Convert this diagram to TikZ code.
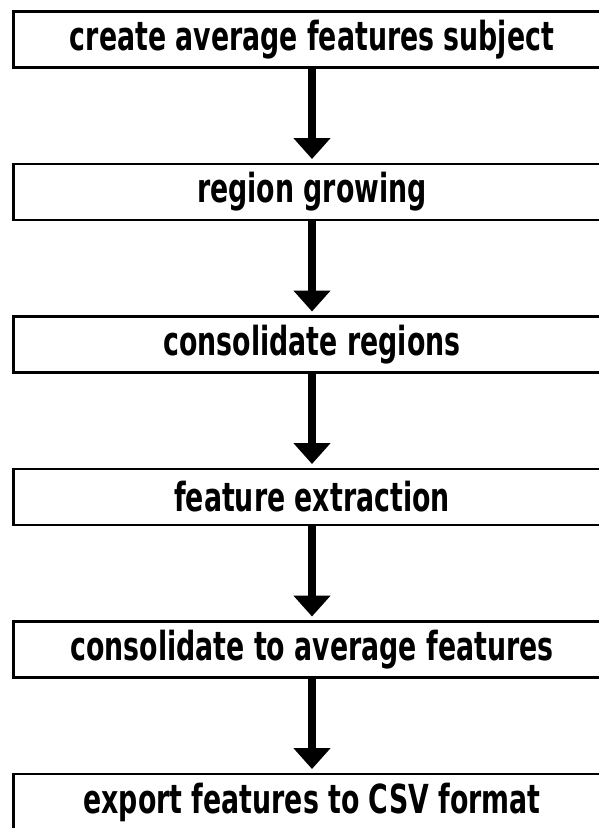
\documentclass[tikz,border=0pt]{standalone}
\usepackage{fontspec}
\usepackage{tikz}
\usetikzlibrary{positioning,arrows.meta}
\newfontfamily\stepfont{DejaVu Sans}[FakeStretch=0.67]

\begin{document}
\begin{tikzpicture}[x=1pt, y=1pt,
    stepbox/.style={draw, line width=2.8pt, minimum width=597pt, minimum height=56pt,
        inner sep=0pt, outer sep=0pt, font=\stepfont\bfseries\fontsize{40}{42}\selectfont},
    flow/.style={line width=8pt, -{Triangle[width=36pt, length=21pt]}, shorten >=5pt},
    node distance=96.5pt]
    % Frame
    \useasboundingbox (0,0) rectangle (599,-828);

    % Steps
    \node[stepbox] (avg) at (312,-39.5) {create average features subject};
    \node[stepbox, below=of avg] (grow) {region growing};
    \node[stepbox, below=of grow] (cons) {consolidate regions};
    \node[stepbox, below=of cons] (feat) {feature extraction};
    \node[stepbox, below=of feat] (toavg) {consolidate to average features};
    \node[stepbox, below=of toavg] (csv) {export features to CSV format};

    % Arrows
    \draw[flow] (avg) -- (grow);
    \draw[flow] (grow) -- (cons);
    \draw[flow] (cons) -- (feat);
    \draw[flow] (feat) -- (toavg);
    \draw[flow] (toavg) -- (csv);
\end{tikzpicture}
\end{document}
